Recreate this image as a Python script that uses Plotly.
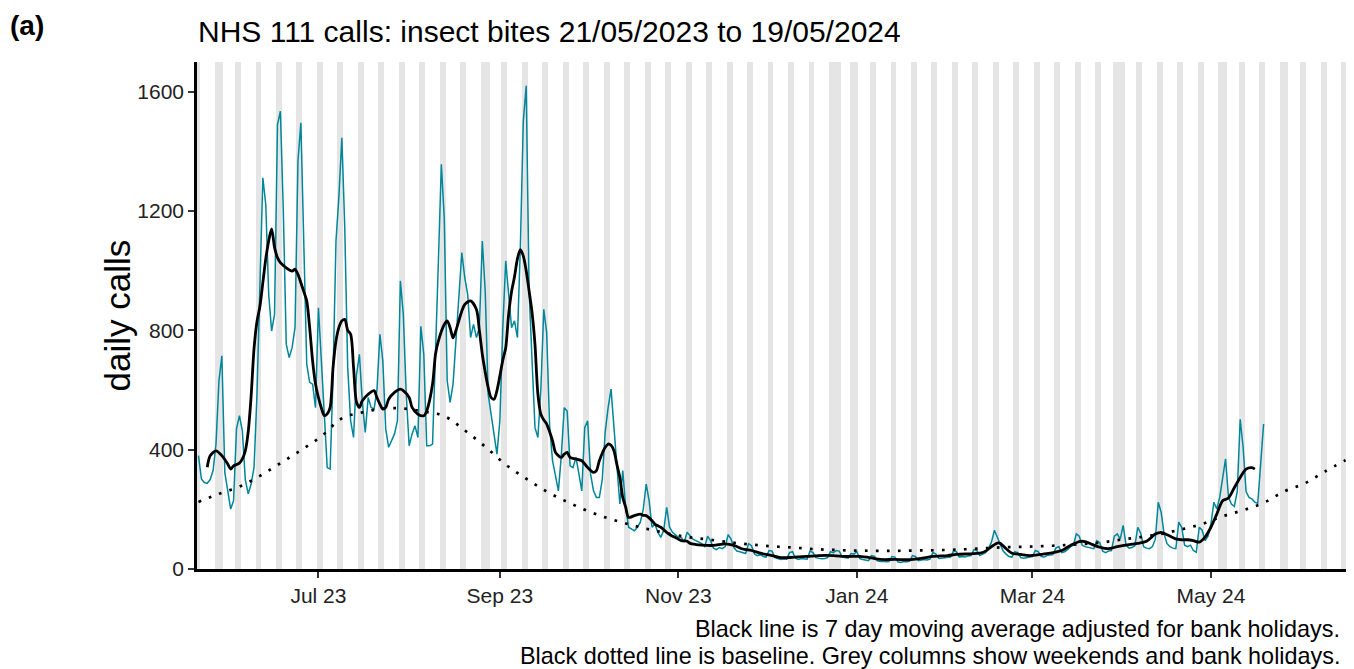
import pandas as pd
import plotly.graph_objects as go

# ---------------- data ----------------
start_date = "2023-05-21"
# daily NHS 111 calls (21/05/2023 .. 19/05/2024), rows of 7 days starting Sunday
calls = [
    380, 302, 290, 287, 300, 330, 420,
    631, 715, 324, 263, 201, 229, 470,
    514, 463, 300, 252, 285, 341, 586,
    950, 1312, 1222, 921, 798, 854, 1490,
    1535, 1200, 754, 709, 742, 809, 1367,
    1496, 1077, 687, 626, 620, 541, 876,
    698, 519, 340, 335, 650, 1100, 1250,
    1446, 1144, 676, 497, 441, 650, 720,
    560, 458, 575, 542, 536, 600, 787,
    698, 469, 408, 430, 453, 497, 966,
    854, 586, 413, 453, 480, 441, 814,
    720, 413, 413, 419, 698, 1033, 1357,
    1178, 631, 559, 620, 765, 921, 1061,
    977, 921, 776, 820, 776, 809, 1100,
    930, 586, 519, 441, 385, 497, 809,
    1033, 921, 809, 832, 776, 1078, 1500,
    1620, 930, 700, 474, 441, 600, 871,
    792, 480, 363, 313, 262, 380, 541,
    530, 346, 340, 374, 320, 262, 474,
    497, 318, 262, 240, 240, 300, 460,
    541, 603, 474, 330, 218, 330, 207,
    140, 135, 128, 140, 157, 200, 285,
    229, 140, 150, 123, 106, 130, 207,
    140, 123, 115, 106, 106, 90, 123,
    110, 100, 95, 90, 85, 75, 110,
    95, 70, 65, 72, 68, 75, 115,
    100, 72, 60, 58, 55, 52, 85,
    78, 50, 45, 48, 42, 40, 62,
    60, 38, 35, 32, 34, 33, 55,
    58, 36, 32, 35, 34, 33, 60,
    55, 38, 36, 34, 35, 38, 58,
    55, 62, 60, 40, 38, 36, 52,
    50, 58, 35, 32, 30, 28, 45,
    42, 27, 25, 26, 24, 25, 42,
    40, 24, 22, 25, 24, 26, 45,
    42, 28, 30, 32, 30, 33, 55,
    50, 35, 36, 38, 37, 40, 60,
    58, 40, 42, 40, 44, 45, 65,
    62, 45, 50, 55, 70, 90, 130,
    105, 80, 60, 50, 42, 40, 58,
    55, 38, 36, 38, 40, 42, 62,
    58, 42, 40, 45, 46, 48, 70,
    75, 55, 58, 65, 75, 80, 118,
    110, 80, 75, 72, 70, 68, 95,
    88, 60, 55, 60, 62, 110, 118,
    100, 146, 80, 70, 72, 78, 140,
    120, 75, 70, 68, 75, 100, 224,
    190, 117, 85, 75, 70, 68, 157,
    140, 80, 75, 80, 62, 56, 140,
    130, 95, 110, 150, 224, 201, 240,
    300, 369, 240, 218, 210, 260, 502,
    408, 260, 240, 235, 224, 220, 355,
    486,
]

# 7 day moving average (day offset from start, value)
ma_day = [3, 4, 6, 8, 10, 11, 12, 14, 15, 16, 17, 18, 19, 20, 21, 22, 23, 24, 25, 26, 27, 28, 30, 32, 33, 34, 35, 36, 37, 38,
          39, 40, 41, 42, 43, 44, 45, 46, 47, 48, 49, 50, 51, 52, 53, 54, 55, 56, 58, 60, 61, 62, 63, 64, 65, 67, 69, 70, 72, 73,
          75, 77, 78, 80, 81, 82, 84, 85, 86, 87, 88, 90, 91, 93, 95, 96, 97, 98, 99, 100, 101, 102, 104, 105, 106, 107, 108, 109, 110, 111,
          112, 113, 114, 115, 116, 117, 118, 119, 120, 121, 122, 123, 124, 125, 126, 127, 129, 131, 133, 135, 136, 137, 139, 140, 141, 142, 143, 144, 145, 146,
          147, 149, 151, 152, 153, 155, 156, 157, 158, 160, 162, 163, 165, 167, 168, 170, 172, 176, 180, 183, 186, 189, 192, 196, 199, 203, 208, 212, 217, 221,
          226, 230, 233, 238, 242, 245, 248, 251, 256, 259, 264, 267, 269, 271, 273, 274, 276, 278, 281, 284, 288, 291, 295, 298, 301, 303, 305, 308, 311, 314,
          318, 321, 324, 327, 329, 331, 334, 336, 338, 340, 342, 344, 346, 348, 350, 352, 354, 356, 358, 360, 361]
ma_val = [341, 380, 396, 380, 352, 335, 346, 355, 369, 396, 460, 580, 740, 830, 880, 960, 1040, 1100, 1140, 1078, 1044, 1027, 1010, 999, 1005, 988, 960, 930, 899, 809,
          698, 620, 575, 540, 514, 520, 542, 676, 765, 810, 832, 837, 800, 787, 676, 560, 542, 564, 586, 598, 575, 553, 536, 542, 569, 592, 603, 598, 575, 542,
          519, 514, 530, 620, 720, 765, 820, 832, 809, 775, 800, 865, 887, 899, 870, 800, 720, 660, 609, 575, 569, 598, 700, 742, 854, 930, 980, 1040, 1071, 1050,
          1000, 932, 860, 753, 586, 519, 500, 486, 460, 430, 391, 380, 374, 385, 391, 374, 369, 363, 340, 324, 330, 363, 408, 419, 415, 396, 350, 307, 240, 207,
          173, 179, 184, 180, 179, 162, 150, 145, 140, 123, 110, 106, 95, 93, 86, 82, 80, 79, 84, 79, 67, 62, 53, 45, 38, 39, 42, 45, 45, 42,
          42, 37, 32, 32, 31, 33, 37, 42, 45, 49, 51, 53, 60, 75, 87, 86, 68, 53, 49, 45, 49, 53, 62, 79, 92, 92, 84, 73, 68, 75,
          82, 86, 93, 117, 123, 115, 101, 98, 98, 95, 90, 107, 140, 184, 229, 238, 273, 307, 335, 340, 335]

# baseline (day offset from start, value)
base_day = [0, 7, 14, 21, 28, 35, 42, 49, 56, 63, 70, 77, 84, 91, 98, 105, 112, 119, 126, 133, 140, 147, 154, 161, 168, 175, 182, 189, 196, 203,
            210, 217, 224, 231, 238, 245, 252, 259, 266, 273, 280, 287, 294, 301, 308, 315, 322, 329, 336, 343, 350, 357, 364, 371, 378, 385, 392]
base_val = [225, 252, 276, 312, 355, 398, 445, 505, 525, 538, 538, 528, 513, 465, 410, 350, 303, 260, 225, 195, 170, 150, 133, 118, 106, 98, 89, 82, 76, 72,
            67, 64, 62, 61, 61, 62, 63, 65, 68, 72, 74, 76, 79, 83, 88, 98, 107, 118, 133, 151, 177, 197, 222, 260, 287, 327, 365]

bank_holidays = ["2023-05-29", "2023-08-28", "2023-12-25", "2023-12-26", "2024-01-01",
                 "2024-03-29", "2024-04-01", "2024-05-06", "2024-05-27"]
grey_start, grey_end = "2023-05-21", "2024-06-16"

x_tick_vals = ["2023-07-01", "2023-09-01", "2023-11-01", "2024-01-01", "2024-03-01", "2024-05-01"]
x_tick_text = ["Jul 23", "Sep 23", "Nov 23", "Jan 24", "Mar 24", "May 24"]
y_tick_vals = [0, 400, 800, 1200, 1600]

title_text = "NHS 111 calls: insect bites 21/05/2023 to 19/05/2024"
caption_1 = "Black line is 7 day moving average adjusted for bank holidays."
caption_2 = "Black dotted line is baseline. Grey columns show weekends and bank holidays."

# ---------------- build ----------------
t0 = pd.Timestamp(start_date)
dates = pd.date_range(t0, periods=len(calls), freq="D")
ma_dates = [t0 + pd.Timedelta(days=d) for d in ma_day]
base_dates = [t0 + pd.Timedelta(days=d) for d in base_day]
cal = pd.date_range(grey_start, grey_end, freq="D")
bh = set(bank_holidays)
grey_days = [d for d in cal if d.dayofweek >= 5 or d.strftime("%Y-%m-%d") in bh]

Y_TOP = 1700
OFF = 8  # page body margin of the browser
W, H = 1354 - OFF, 669 - OFF
# plot area in reference pixels: x 197..1347, y 62..569
L, T = 197 - OFF, 62 - OFF
R = W - (1347 - OFF)
B = H - (569 - OFF)
PW, PH = W - L - R, H - T - B
FONT = "Liberation Sans, Arial, sans-serif"

def px_x(p):  # reference pixel -> paper x
    return (p - OFF - L) / PW

def px_y(p):  # reference pixel -> paper y
    return (H - B - (p - OFF)) / PH

fig = go.Figure()
fig.add_trace(go.Bar(x=grey_days, y=[Y_TOP] * len(grey_days), width=86400000,
                     marker=dict(color="#E5E5E5", line=dict(width=0)),
                     hoverinfo="skip", showlegend=False))
fig.add_trace(go.Scatter(x=dates, y=calls, mode="lines",
                         line=dict(color="#00869B", width=1.5), showlegend=False))
fig.add_trace(go.Scatter(x=base_dates, y=base_val, mode="lines",
                         line=dict(color="black", width=2.7, dash="2.7px,8.3px", shape="spline"),
                         showlegend=False))
fig.add_trace(go.Scatter(x=ma_dates, y=ma_val, mode="lines",
                         line=dict(color="black", width=2.8, shape="spline", smoothing=0.8),
                         showlegend=False))

fig.update_layout(
    width=W, height=H,
    margin=dict(l=L, r=R, t=T, b=B, autoexpand=False),
    paper_bgcolor="white", plot_bgcolor="white",
    bargap=0,
    font=dict(family=FONT, color="#000"),
    title=dict(text=title_text, x=px_x(198), xref="paper", xanchor="left",
               y=1 - (31 - OFF) / H, yref="container", yanchor="middle",
               font=dict(size=30, family=FONT, color="#000")),
    xaxis=dict(type="date", range=["2023-05-20 12:00", "2024-06-16 12:00"],
               tickvals=x_tick_vals, ticktext=x_tick_text,
               showgrid=False, zeroline=False,
               showline=True, linecolor="black", linewidth=2.5,
               ticks="outside", ticklen=6, tickwidth=2.2, tickcolor="#333",
               tickfont=dict(size=21, color="#222", family=FONT)),
    yaxis=dict(range=[0, Y_TOP], tickvals=y_tick_vals,
               showgrid=False, zeroline=False,
               showline=True, linecolor="black", linewidth=2.5,
               ticks="outside", ticklen=6, tickwidth=2.2, tickcolor="#333",
               tickfont=dict(size=21, color="#222", family=FONT)),
)

fig.add_annotation(text="daily calls", textangle=-90, xref="paper", yref="paper",
                   x=px_x(117), y=0.5, xanchor="center", yanchor="middle",
                   showarrow=False, font=dict(size=35, family=FONT, color="#000"))
# panel label, kept fully inside the figure (box top at the figure's top edge)
fig.add_annotation(text="<b>(a)</b>", xref="paper", yref="paper",
                   x=px_x(27), y=px_y(OFF + 1), xanchor="center", yanchor="top",
                   borderpad=0, showarrow=False, font=dict(size=28, family=FONT, color="#000"))
fig.add_annotation(text=caption_1, xref="paper", yref="paper",
                   x=px_x(1341), y=px_y(629), xanchor="right", yanchor="middle",
                   borderpad=0, showarrow=False, font=dict(size=23.4, family=FONT, color="#000"))
fig.add_annotation(text=caption_2, xref="paper", yref="paper",
                   x=px_x(1341), y=px_y(655.5), xanchor="right", yanchor="middle",
                   borderpad=0, showarrow=False, font=dict(size=23.4, family=FONT, color="#000"))

fig.write_html("out.html")
